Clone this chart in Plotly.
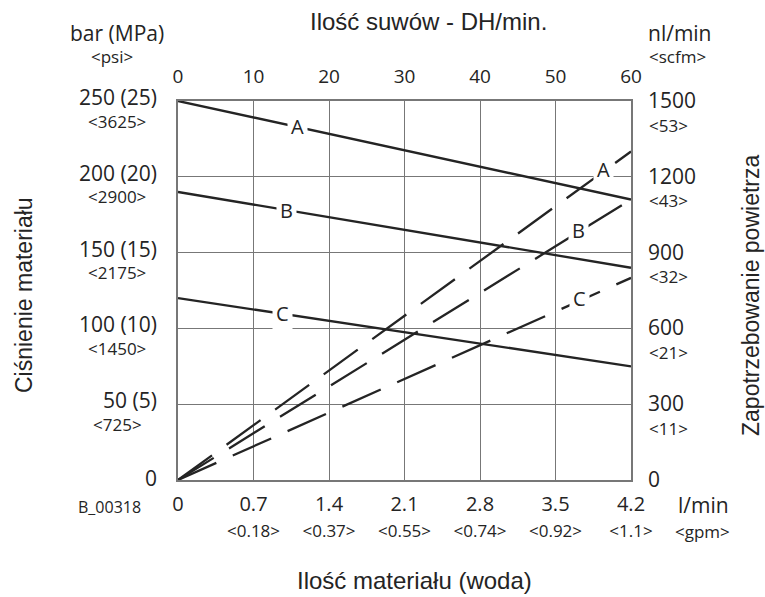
import numpy as np
import plotly.graph_objects as go

# ---------------- data ----------------
strokes = [0, 60]                      # DH/min
pressure_A = [250, 185]                # bar
pressure_B = [190, 140]
pressure_C = [120, 75]
air_A = [0, 1300]                      # nl/min
air_B = [0, 1110]
air_C = [0, 800]

stroke_ticks = [0, 10, 20, 30, 40, 50, 60]
pressure_ticks = [0, 50, 100, 150, 200, 250]
pressure_labels = ["0", "50 (5)", "100 (10)", "150 (15)", "200 (20)", "250 (25)"]
psi_labels = ["", "<725>", "<1450>", "<2175>", "<2900>", "<3625>"]
air_ticks = [0, 300, 600, 900, 1200, 1500]
air_labels = ["0", "300", "600", "900", "1200", "1500"]
scfm_labels = ["", "<11>", "<21>", "<32>", "<43>", "<53>"]
flow_ticks = [0, 0.7, 1.4, 2.1, 2.8, 3.5, 4.2]
flow_labels = ["0", "0.7", "1.4", "2.1", "2.8", "3.5", "4.2"]
gpm_labels = ["", "<0.18>", "<0.37>", "<0.55>", "<0.74>", "<0.92>", "<1.1>"]

series_names = ["A", "B", "C"]
solid_label_at = [15.8, 14.4, 13.8]    # strokes where letter sits on pressure line
dashed_label_at = [56.3, 53.0, 53.2]   # strokes where letter sits on air line

# ---------------- layout helpers ----------------
W, H = 765, 597
def px(x):
    return x / W
def py(y):
    return 1 - y / H

PLOT_L, PLOT_R, PLOT_T, PLOT_B = 178, 631, 101, 480
INK = "#242424"
GRID = "#777777"
TICKFONT = "Open Sans"
TITLEFONT = "Liberation Sans"
MAIN = 21
SUB = 17

def esc(s):
    return s.replace("<", "&lt;").replace(">", "&gt;")

fig = go.Figure()

pressures = [pressure_A, pressure_B, pressure_C]
airs = [air_A, air_B, air_C]
for name, p in zip(series_names, pressures):
    fig.add_trace(go.Scatter(x=strokes, y=p, mode="lines", xaxis="x", yaxis="y",
                             line=dict(color=INK, width=2.3), showlegend=False,
                             hoverinfo="skip", name=name))
for name, a in zip(series_names, airs):
    fig.add_trace(go.Scatter(x=strokes, y=a, mode="lines", xaxis="x", yaxis="y2",
                             line=dict(color=INK, width=2.3, dash="42px,18px"),
                             showlegend=False, hoverinfo="skip", name=name))
# empty trace to register the l/min axis
fig.add_trace(go.Scatter(x=[], y=[], xaxis="x2", yaxis="y", showlegend=False,
                         hoverinfo="skip"))

annotations = []

# letters on lines
for name, p, s in zip(series_names, pressures, solid_label_at):
    annotations.append(dict(x=s, y=float(np.interp(s, strokes, p)), xref="x", yref="y",
                            text=name, showarrow=False, bgcolor="white", borderpad=3,
                            font=dict(family=TICKFONT, size=20, color=INK)))
for name, a, s in zip(series_names, airs, dashed_label_at):
    annotations.append(dict(x=s, y=float(np.interp(s, strokes, a)), xref="x", yref="y2",
                            text=name, showarrow=False, bgcolor="white", borderpad=3,
                            yshift=2, font=dict(family=TICKFONT, size=20, color=INK)))

# left tick labels
for v, main, sub in zip(pressure_ticks, pressure_labels, psi_labels):
    annotations.append(dict(x=px(159), y=v, xref="paper", yref="y", xanchor="right",
                            yanchor="middle", yshift=4 if v else 2, text=main,
                            showarrow=False, font=dict(family=TICKFONT, size=MAIN, color=INK)))
    if sub:
        annotations.append(dict(x=px(117), y=v, xref="paper", yref="y", xanchor="center",
                                yanchor="middle", yshift=-20, text=esc(sub), showarrow=False,
                                font=dict(family=TICKFONT, size=SUB, color=INK)))

# right tick labels
for v, main, sub in zip(air_ticks, air_labels, scfm_labels):
    annotations.append(dict(x=px(646), y=v, xref="paper", yref="y2", xanchor="left",
                            yanchor="middle", yshift=1, text=main, showarrow=False,
                            font=dict(family=TICKFONT, size=MAIN, color=INK)))
    if sub:
        annotations.append(dict(x=px(647), y=v, xref="paper", yref="y2", xanchor="left",
                                yanchor="middle", yshift=-24, text=esc(sub), showarrow=False,
                                font=dict(family=TICKFONT, size=SUB, color=INK)))

def txt(x, y, text, size, family=TICKFONT, angle=0, xanchor="center"):
    annotations.append(dict(x=px(x), y=py(y), xref="paper", yref="paper", text=text,
                            showarrow=False, textangle=angle, xanchor=xanchor,
                            yanchor="middle", font=dict(family=family, size=size, color=INK)))

txt(117, 33, "bar (MPa)", MAIN)
txt(112, 57, esc("<psi>"), SUB)
txt(680, 33, "nl/min", MAIN)
txt(677, 57, esc("<scfm>"), SUB)
txt(428, 22, "Ilość suwów - DH/min.", 24, TITLEFONT)
txt(415, 580, "Ilość materiału (woda)", 24, TITLEFONT)
txt(24, 295, "Ciśnienie materiału", 23, TITLEFONT, -90)
txt(751, 296, "Zapotrzebowanie powietrza", 23, TITLEFONT, -90)
txt(110, 507, "B_00318", 16)
txt(703, 505, "l/min", MAIN)
txt(702, 531, esc("<gpm>"), SUB)

bottom_text = [m if not s else f"{m}<br><span style='font-size:{SUB}px'>{esc(s)}</span>"
               for m, s in zip(flow_labels, gpm_labels)]

fig.update_layout(
    width=W, height=H, autosize=False,
    margin=dict(l=0, r=0, t=0, b=0, pad=0, autoexpand=False),
    paper_bgcolor="white", plot_bgcolor="white",
    xaxis=dict(domain=[px(PLOT_L), px(PLOT_R)], range=[0, 60], side="top",
               tickvals=stroke_ticks, ticks="", showgrid=True, gridcolor=GRID,
               gridwidth=1.4, zeroline=False, showline=True, mirror=True,
               linecolor=GRID, linewidth=1.6, ticklabelstandoff=9, automargin=False,
               tickfont=dict(family=TICKFONT, size=19, color=INK), anchor="y",
               fixedrange=True),
    xaxis2=dict(domain=[px(PLOT_L), px(PLOT_R)], range=[0, 4.2], side="bottom",
                overlaying="x", anchor="y", tickvals=flow_ticks, ticktext=bottom_text,
                ticks="", showgrid=False, zeroline=False, showline=False,
                ticklabelstandoff=10, automargin=False,
                tickfont=dict(family=TICKFONT, size=20, color=INK)),
    yaxis=dict(domain=[py(PLOT_B), py(PLOT_T)], range=[0, 250], tickvals=pressure_ticks,
               showticklabels=False, ticks="", showgrid=True, gridcolor=GRID,
               gridwidth=1.4, zeroline=False, showline=True, mirror=True, automargin=False,
               linecolor=GRID, linewidth=1.6, anchor="x"),
    yaxis2=dict(domain=[py(PLOT_B), py(PLOT_T)], range=[0, 1500], overlaying="y",
                side="right", showticklabels=False, showgrid=False, zeroline=False,
                showline=False, anchor="x", automargin=False),
    annotations=annotations,
    showlegend=False,
)

fig.write_html("out.html")
